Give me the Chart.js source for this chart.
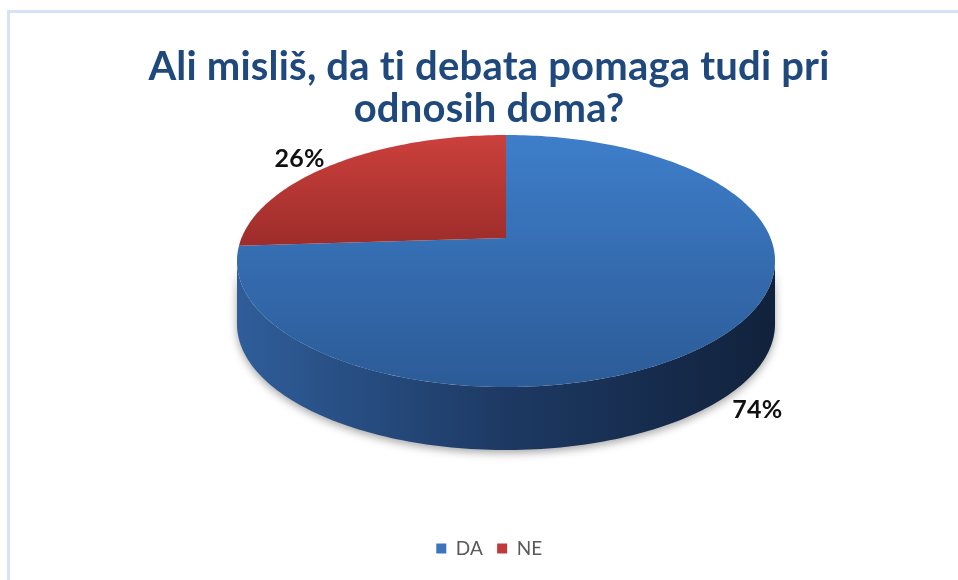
<!DOCTYPE html>
<html>
<head>
<meta charset="utf-8">
<script src="https://cdn.jsdelivr.net/npm/chart.js@4.4.1/dist/chart.umd.min.js"></script>
<style>
  html, body { margin: 0; padding: 0; background: #fff; }
  #wrap { position: relative; width: 958px; height: 580px; overflow: hidden; }
  #frame { position: absolute; left: 7px; top: 10px; width: 1000px; height: 1000px;
           border-left: 3px solid #d6e3f5; border-top: 3px solid #d6e3f5; }
  canvas { position: absolute; left: 0; top: 0; }
</style>
</head>
<body>
<div id="wrap">
  <div id="frame"></div>
  <canvas id="chart" width="958" height="580"></canvas>
</div>
<script>
// data
const titleLines = ['Ali misliš, da ti debata pomaga tudi pri', 'odnosih doma?'];
const categories = ['DA', 'NE'];
const shares = [74, 26];

// styles
const legendColors = ['#3c74bd', '#c0393b'];
const topColors = [['rgb(62,126,202)', 'rgb(44,91,151)'], ['rgb(203,64,60)', 'rgb(156,44,42)']];
const sideColors = [['rgb(47,93,153)', 'rgb(29,57,99)', 'rgb(17,34,60)'], ['rgb(150,42,40)', 'rgb(110,30,28)', 'rgb(80,22,20)']];

// fake 3D: perspective-projected disc with an extruded rim
function proj(g, a, r, dz) {
  const u = r * Math.cos(a), v = r * Math.sin(a);
  const w = 1 - g.k * v;
  return [g.cx + g.rx * u / w, g.cy + g.ry * v / w + dz];
}

function arcPoints(g, a0, a1, dz) {
  const n = Math.max(2, Math.ceil(Math.abs(a1 - a0) / 0.02));
  const pts = [];
  for (let i = 0; i <= n; i++) pts.push(proj(g, a0 + (a1 - a0) * i / n, 1, dz));
  return pts;
}

// small letter spacing keeps Lato from joining "ti" into a ligature
const noLigatures = {
  id: 'noLigatures',
  beforeDraw(chart) { chart.ctx.letterSpacing = '0.2px'; },
};

const pie3d = {
  id: 'pie3d',
  beforeDatasetsDraw(chart) {
    const ctx = chart.ctx;
    const area = chart.chartArea;
    const arcs = chart.getDatasetMeta(0).data;
    const g = { cx: arcs[0].x + 17, cy: area.top + 103, rx: 264.5, ry: 121.8, k: 0.1826, depth: 63 };
    const lo = Math.asin(g.k), hi = Math.PI - lo;
    const farY = g.cy - g.ry / (1 + g.k);
    const nearY = g.cy + g.ry / (1 - g.k);

    ctx.save();
    // rim
    arcs.forEach((arc, i) => {
      const a0 = Math.max(arc.startAngle, lo), a1 = Math.min(arc.endAngle, hi);
      if (a1 <= a0) return;
      const top = arcPoints(g, a0, a1, 0);
      const bot = arcPoints(g, a1, a0, g.depth);
      const grad = ctx.createLinearGradient(g.cx - g.rx, 0, g.cx + g.rx, 0);
      grad.addColorStop(0, sideColors[i][0]);
      grad.addColorStop(0.5, sideColors[i][1]);
      grad.addColorStop(1, sideColors[i][2]);
      ctx.beginPath();
      top.concat(bot).forEach((p, j) => j ? ctx.lineTo(p[0], p[1]) : ctx.moveTo(p[0], p[1]));
      ctx.closePath();
      ctx.shadowColor = 'rgba(0,0,0,0.35)';
      ctx.shadowBlur = 8;
      ctx.shadowOffsetY = 3;
      ctx.fillStyle = grad;
      ctx.fill();
    });
    ctx.shadowColor = 'transparent';

    // top face
    arcs.forEach((arc, i) => {
      const pts = arcPoints(g, arc.startAngle, arc.endAngle, 0);
      let y0 = farY, y1 = nearY;
      if (i === 1) { y1 = g.cy + 10; }
      const grad = ctx.createLinearGradient(0, y0, 0, y1);
      grad.addColorStop(0, topColors[i][0]);
      grad.addColorStop(1, topColors[i][1]);
      ctx.beginPath();
      ctx.moveTo(g.cx, g.cy);
      pts.forEach(p => ctx.lineTo(p[0], p[1]));
      ctx.closePath();
      ctx.fillStyle = grad;
      ctx.fill();
    });

    // percentage labels
    const total = shares.reduce((s, v) => s + v, 0);
    ctx.font = 'bold 25px Lato';
    ctx.fillStyle = '#111';
    ctx.textAlign = 'center';
    ctx.textBaseline = 'middle';
    arcs.forEach((arc, i) => {
      const mid = (arc.startAngle + arc.endAngle) / 2;
      const u = Math.cos(mid), v = Math.sin(mid);
      const p = proj(g, mid, 1, v > 0 ? g.depth : 0);
      const txt = Math.round(shares[i] / total * 100) + '%';
      const tw = ctx.measureText(txt).width;
      const x = p[0] + Math.sign(u) * (tw / 2 + (v > 0 ? 6 : 10));
      const y = p[1] + (v > 0 ? 14 : -5);
      ctx.fillText(txt, x, y);
    });
    ctx.restore();
    return false;
  }
};

new Chart(document.getElementById('chart'), {
  type: 'pie',
  data: {
    labels: categories,
    datasets: [{ data: shares, backgroundColor: legendColors, borderWidth: 0 }],
  },
  options: {
    responsive: false,
    animation: false,
    devicePixelRatio: 1,
    layout: { padding: { left: 20, bottom: 12 } },
    plugins: {
      title: {
        display: true,
        text: titleLines,
        color: '#1f497d',
        font: { family: 'Lato', weight: 'bold', size: 40, lineHeight: 1.05 },
        padding: { top: 46, bottom: 5 },
      },
      legend: {
        position: 'bottom',
        labels: { color: '#595959', font: { family: 'Lato', size: 19 }, boxWidth: 10, boxHeight: 10, padding: 14 },
      },
      tooltip: { enabled: false },
    },
  },
  plugins: [noLigatures, pie3d],
});
</script>
</body>
</html>
